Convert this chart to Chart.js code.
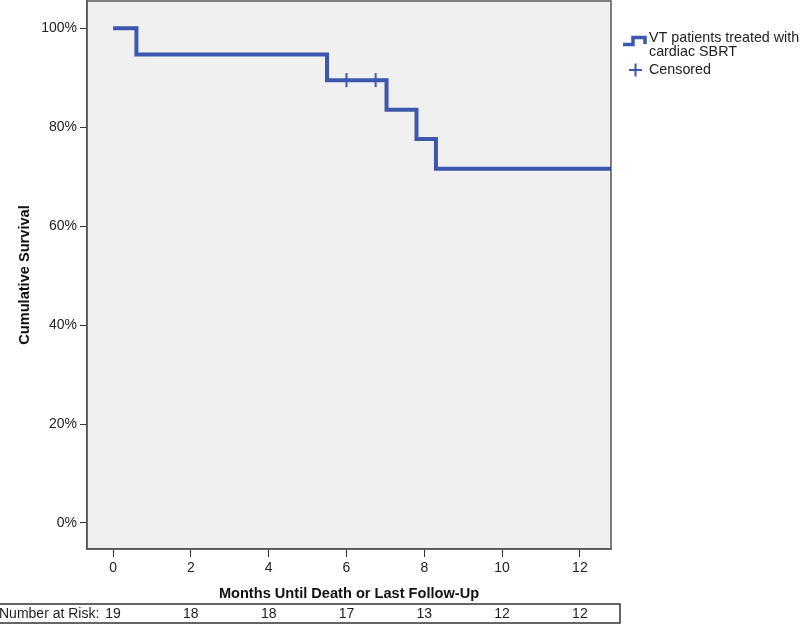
<!DOCTYPE html>
<html>
<head>
<meta charset="utf-8">
<script src="https://cdn.jsdelivr.net/npm/chart.js@4.4.1/dist/chart.umd.min.js"></script>
<style>
  html, body { margin: 0; padding: 0; background: #fff; }
  #wrap { width: 800px; height: 625px; position: relative; }
</style>
</head>
<body>
<div id="wrap"><canvas id="km"></canvas></div>
<script>
// Kaplan-Meier survival, VT patients treated with cardiac SBRT.
const EVENT_MONTHS = [0, 0.6, 5.5, 7.03, 7.8, 8.3, 12.8];
const SURVIVAL     = [100, 94.7, 89.5, 83.5, 77.6, 71.6, 71.6];
const CENSOR_MONTHS = [6.0, 6.75];
const CENSOR_SURV   = [89.5, 89.5];
const X_TICKS = [0, 2, 4, 6, 8, 10, 12];
const Y_TICKS = [0, 20, 40, 60, 80, 100];
const RISK_MONTHS = [0, 2, 4, 6, 8, 10, 12];
const AT_RISK     = [19, 18, 18, 17, 13, 12, 12];

const BLUE = "#3d56ae", INK = "#222", FONT = "'Liberation Sans', Arial, sans-serif";
Chart.defaults.font.family = FONT;
Chart.defaults.color = INK;

const frame = {
  id: "frame",
  beforeDraw(c) {
    const a = c.chartArea, ctx = c.ctx;
    ctx.save(); ctx.fillStyle = "#f0f0f0";
    ctx.fillRect(a.left, a.top, a.right - a.left, a.bottom - a.top);
    ctx.restore();
  },
  afterDraw(c) {
    const a = c.chartArea, ctx = c.ctx, x = c.scales.x;
    ctx.save();
    ctx.strokeStyle = "#555"; ctx.lineWidth = 1.5;
    ctx.strokeRect(a.left, a.top, a.right - a.left, a.bottom - a.top);
    // legend
    ctx.strokeStyle = BLUE; ctx.lineWidth = 3.5; ctx.lineJoin = "miter";
    ctx.beginPath();
    ctx.moveTo(623, 44.5); ctx.lineTo(633, 44.5); ctx.lineTo(633, 37.5);
    ctx.lineTo(645, 37.5); ctx.lineTo(645, 44); ctx.stroke();
    ctx.lineWidth = 2;
    ctx.beginPath();
    ctx.moveTo(629, 70); ctx.lineTo(642, 70);
    ctx.moveTo(635.5, 63.5); ctx.lineTo(635.5, 76.5); ctx.stroke();
    ctx.fillStyle = INK; ctx.font = "14.3px " + FONT; ctx.textBaseline = "middle"; ctx.textAlign = "left";
    ctx.fillText("VT patients treated with", 649, 38);
    ctx.fillText("cardiac SBRT", 649, 52);
    ctx.fillText("Censored", 649, 70);
    // number at risk
    ctx.strokeStyle = "#333"; ctx.lineWidth = 1.5;
    ctx.strokeRect(-1, 604, 621, 19);
    ctx.font = "14px " + FONT;
    ctx.fillText("Number at Risk:", -1, 614);
    ctx.textAlign = "center";
    RISK_MONTHS.forEach((m, i) => ctx.fillText(String(AT_RISK[i]), x.getPixelForValue(m), 614));
    ctx.restore();
  }
};

new Chart(document.getElementById("km"), {
  type: "scatter",
  data: {
    datasets: [
      { label: "VT patients treated with cardiac SBRT", type: "line",
        data: EVENT_MONTHS.map((m, i) => ({x: m, y: SURVIVAL[i]})),
        stepped: true, borderColor: BLUE, borderWidth: 4, pointRadius: 0, fill: false },
      { label: "Censored",
        data: CENSOR_MONTHS.map((m, i) => ({x: m, y: CENSOR_SURV[i]})),
        pointStyle: "line", rotation: 90, radius: 7, borderColor: BLUE, borderWidth: 2 }
    ]
  },
  options: {
    responsive: true, maintainAspectRatio: false, animation: false,
    layout: { autoPadding: false, padding: { left: 0, top: 1, right: 189, bottom: 22 } },
    plugins: { legend: { display: false }, tooltip: { enabled: false } },
    scales: {
      x: {
        type: "linear", min: -0.67, max: 12.8,
        afterBuildTicks: s => { s.ticks = X_TICKS.map(v => ({value: v})); },
        afterFit: s => { s.height = 54; s.paddingLeft = 0; s.paddingRight = 0; },
        grid: { drawOnChartArea: false, tickLength: 8, tickColor: "#333" },
        border: { color: "#555", width: 1.5 },
        ticks: { font: { size: 14 }, color: INK, padding: 3, maxRotation: 0 },
        title: { display: true, text: "Months Until Death or Last Follow-Up",
                 font: { size: 14.6, weight: "bold" }, color: "#111", padding: { top: 0, bottom: 0 } }
      },
      y: {
        min: -5.26, max: 105.5,
        afterBuildTicks: s => { s.ticks = Y_TICKS.map(v => ({value: v})); },
        afterFit: s => { s.width = 87; s.paddingTop = 0; s.paddingBottom = 0; },
        grid: { drawOnChartArea: false, tickLength: 7, tickColor: "#333" },
        border: { color: "#555", width: 1.5 },
        ticks: { font: { size: 14 }, color: INK, padding: 3, callback: v => v + "%" },
        title: { display: true, text: "Cumulative Survival",
                 font: { size: 14.6, weight: "bold" }, color: "#111", padding: { top: 16, bottom: 0 } }
      }
    }
  },
  plugins: [frame]
});
</script>
</body>
</html>
